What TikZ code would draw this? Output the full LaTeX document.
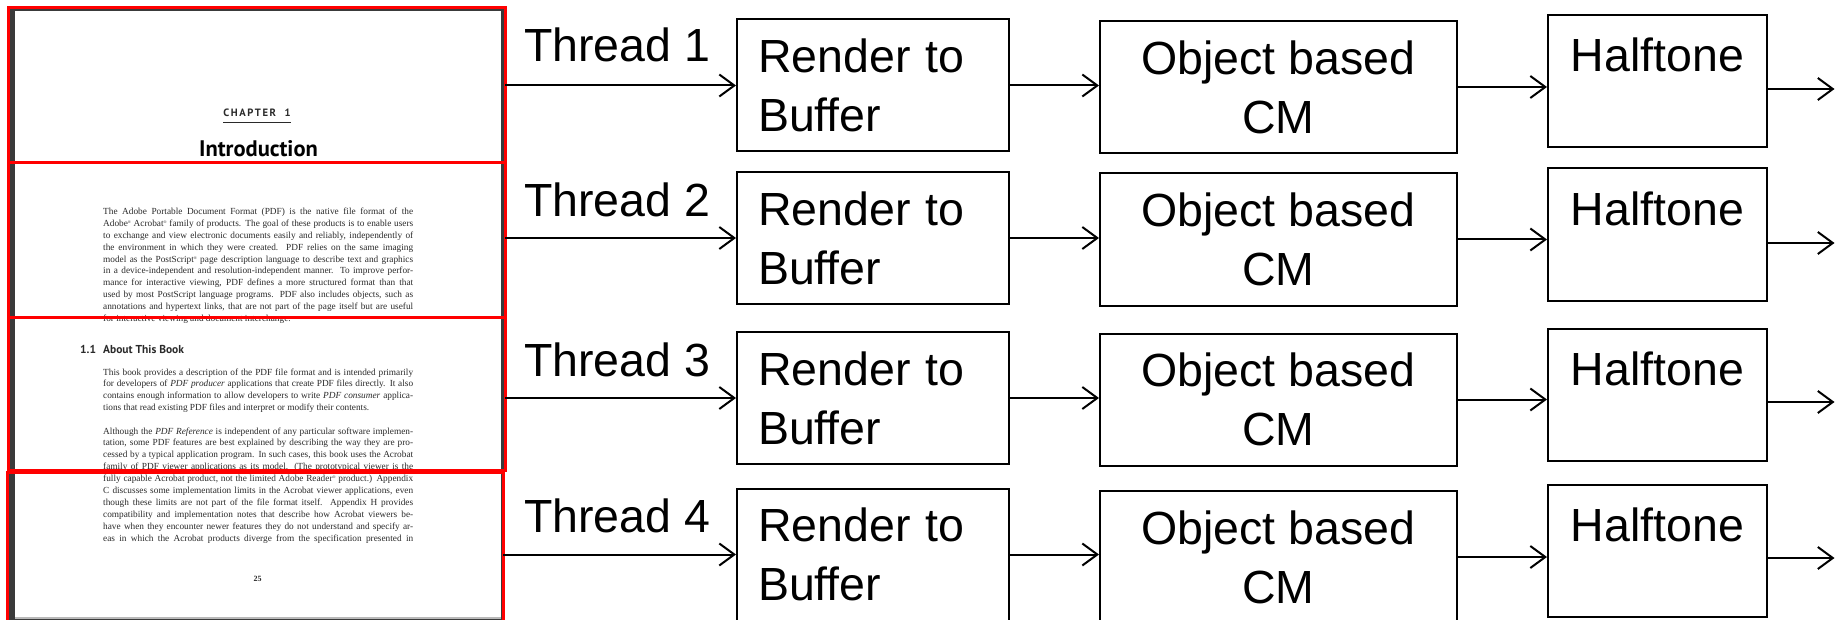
\documentclass[tikz,border=0pt]{standalone}
\usepackage{fontspec}
\setmainfont{Liberation Sans}
\newfontfamily\bodyserif{Liberation Serif}
\newfontfamily\headsans{PT Sans}
\usetikzlibrary{arrows.meta}

\definecolor{pageedge}{HTML}{3A3A3A}
\definecolor{pageink}{HTML}{2A2A2A}
\definecolor{stripred}{HTML}{FF0000}

% one justified / one ragged line of the printed page
\newcommand\jline[1]{\hbox to 310pt{#1}}
\newcommand\eline[1]{\hbox to 310pt{#1\hfil}}
\newcommand\regm{\raisebox{3pt}{\fontsize{4}{4}\selectfont ®}}
\newcommand\bodyfont{\bodyserif\fontsize{9.3}{11.9}\selectfont}

\tikzset{
  big/.style={font=\fontsize{46.5}{59}\selectfont},
  lbl/.style={big, inner sep=0pt, anchor=base west},
  stage/.style={big, draw, line width=2pt, inner sep=0pt, minimum height=132pt},
  render/.style={stage, minimum width=272pt, text width=230pt, align=left},
  colour/.style={stage, minimum width=357pt, align=center},
  halftone/.style={stage, minimum width=219pt, text height=34pt, text depth=52pt},
  flow/.style={line width=2pt, -{Straight Barb[length=15pt,width=22pt]}},
  strip/.style={draw=stripred, line width=3pt, inner sep=0pt, outer sep=0pt},
  para/.style={inner sep=0pt, anchor=base west, text=pageink, font=\bodyfont},
}

\begin{document}
\begin{tikzpicture}[x=1pt, y=-1pt]
\useasboundingbox (0,0) rectangle (1835,620);

% ---- the scanned page ----
\fill[pageedge] (8,8) rectangle (505,624);
\fill[white] (15,11.5) rectangle (500.5,617);
\draw[gray!55, line width=1.5pt] (15,618) -- (500.5,618);

\node[inner sep=0pt, anchor=base, text=pageink,
      font=\headsans\bfseries\fontsize{10.6}{12}\selectfont] (chap) at (257,117)
      {\addfontfeature{LetterSpace=15}CHAPTER\ \ 1};
\draw[pageink, line width=0.9pt] ([yshift=-5pt]chap.base west) -- ([yshift=-5pt]chap.base east);
\node[inner sep=0pt, anchor=base, text=black,
      font=\headsans\bfseries\fontsize{22.5}{25}\selectfont] (intro) at (258.5,157) {Introduction};

\node[para] (p1) at (103,214.5) {\vtop{%
\jline{The Adobe Portable Document Format (PDF) is the native file format of the}
\jline{Adobe\regm{} Acrobat\regm{} family of products. The goal of these products is to enable users}
\jline{to exchange and view electronic documents easily and reliably, independently of}
\jline{the environment in which they were created. PDF relies on the same imaging}
\jline{model as the PostScript\regm{} page description language to describe text and graphics}
\jline{in a device-independent and resolution-independent manner. To improve perfor-}
\jline{mance for interactive viewing, PDF defines a more structured format than that}
\jline{used by most PostScript language programs. PDF also includes objects, such as}
\jline{annotations and hypertext links, that are not part of the page itself but are useful}
\eline{for interactive viewing and document interchange.}}};

\node[inner sep=0pt, anchor=base west, text=pageink,
      font=\headsans\bfseries\fontsize{11.5}{13}\selectfont] (secno) at (80,353) {1.1};
\node[inner sep=0pt, anchor=base west, text=pageink,
      font=\headsans\bfseries\fontsize{11.5}{13}\selectfont] (sec) at (103,353) {About This Book};

\node[para] (p2) at (103,375) {\vtop{%
\jline{This book provides a description of the PDF file format and is intended primarily}
\jline{for developers of \textit{PDF producer} applications that create PDF files directly. It also}
\jline{contains enough information to allow developers to write \textit{PDF consumer} applica-}
\eline{tions that read existing PDF files and interpret or modify their contents.}}};

\node[para] (p3) at (103,434) {\vtop{%
\jline{Although the \textit{PDF Reference} is independent of any particular software implemen-}
\jline{tation, some PDF features are best explained by describing the way they are pro-}
\jline{cessed by a typical application program. In such cases, this book uses the Acrobat}
\jline{family of PDF viewer applications as its model. (The prototypical viewer is the}
\jline{fully capable Acrobat product, not the limited Adobe Reader\regm{} product.) Appendix}
\jline{C discusses some implementation limits in the Acrobat viewer applications, even}
\jline{though these limits are not part of the file format itself. Appendix H provides}
\jline{compatibility and implementation notes that describe how Acrobat viewers be-}
\jline{have when they encounter newer features they do not understand and specify ar-}
\jline{eas in which the Acrobat products diverge from the specification presented in}}};

\node[inner sep=0pt, anchor=base, text=pageink,
      font=\bodyserif\bfseries\fontsize{8}{9}\selectfont] (pno) at (257.7,581) {25};

% ---- the four horizontal bands, one per thread ----
\node[strip, minimum width=497pt, minimum height=155pt] (s1) at (256.5,85.5) {};
\node[strip, minimum width=497pt, minimum height=154pt] (s2) at (256.5,240) {};
\node[strip, minimum width=497pt, minimum height=153pt] (s3) at (256.5,393.5) {};
\node[strip, minimum width=496pt, minimum height=154pt] (s4) at (255,549) {};

% ---- one pipeline per band ----
\foreach \i/\ty/\ry/\oy/\hy/\ay in {1/62/85.5/87/81/89,
                                   2/217/238/239.5/234.5/243,
                                   3/376/398/399.5/394.5/402,
                                   4/532/554.5/557/550.5/558}{
  \node[lbl] (t\i) at (524,\ty) {Thread \i};
  \node[render] (r\i) at (873,\ry) {Render to\\Buffer};
  \node[colour] (o\i) at (1278.5,\oy) {Object based\\CM};
  \node[halftone] (h\i) at (1657.5,\hy) {Halftone};
  \coordinate (e\i) at (1834.5,\ay);
  \draw[flow] (s\i.east |- r\i.west) -- (r\i.west);
  \draw[flow] (r\i.east) -- (r\i.east -| o\i.west);
  \draw[flow] (o\i.east) -- (o\i.east -| h\i.west);
  \draw[flow] (h\i.east |- e\i) -- (e\i);
}
\end{tikzpicture}
\end{document}
